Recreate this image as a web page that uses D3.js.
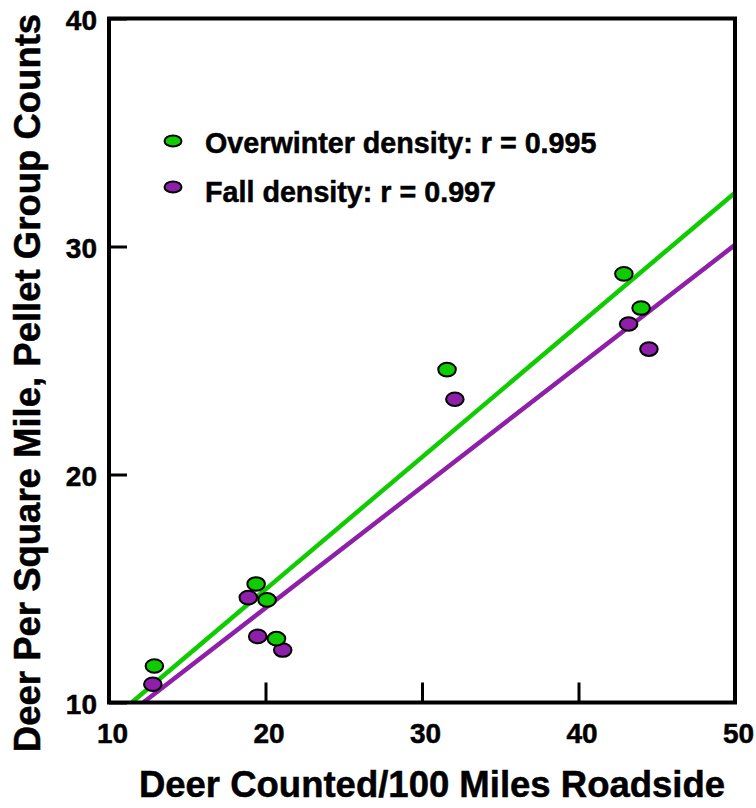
<!DOCTYPE html>
<html>
<head>
<meta charset="utf-8">
<script src="https://cdn.jsdelivr.net/npm/d3@7"></script>
<style>
  html, body { margin: 0; padding: 0; background: #fff; }
  svg { display: block; }
  text { font-family: "Liberation Sans", Arial, Helvetica, sans-serif; font-weight: bold; fill: #000; stroke: #000; stroke-width: 0.5px; }
</style>
</head>
<body>
<svg id="chart" width="756" height="808"></svg>
<script>
// ---- data ----
const xTicks = [10, 20, 30, 40, 50];
const yTicks = [10, 20, 30, 40];
const overwinterX = [12.9, 19.4, 20.1, 20.7, 31.6, 42.9, 44.0];
const overwinterY = [11.6, 15.2, 14.5, 12.8, 24.6, 28.8, 27.3];
const fallX = [12.8, 18.9, 19.5, 21.1, 32.1, 43.2, 44.5];
const fallY = [10.8, 14.6, 12.9, 12.3, 23.3, 26.6, 25.5];
const overwinterFitX = [11.45, 50];
const overwinterFitY = [10, 32.36];
const fallFitX = [12.19, 50];
const fallFitY = [10, 30.07];
const legendLabels = ["Overwinter density: r = 0.995", "Fall density: r = 0.997"];
const xTitle = "Deer Counted/100 Miles Roadside";
const yTitle = "Deer Per Square Mile, Pellet Group Counts";

const green = "#0fcc00";
const purple = "#8e1fa8";

const svg = d3.select("#chart");
const x = d3.scaleLinear().domain([10, 50]).range([109, 735]);
const y = d3.scaleLinear().domain([10, 40]).range([702.5, 18.5]);

svg.append("defs").append("clipPath").attr("id", "plotclip")
  .append("rect")
  .attr("x", x(10)).attr("y", y(40))
  .attr("width", x(50) - x(10)).attr("height", y(10) - y(40));

// fit lines
const line = d3.line().x(d => x(d[0])).y(d => y(d[1]));
const fits = [
  { xs: overwinterFitX, ys: overwinterFitY, color: green },
  { xs: fallFitX, ys: fallFitY, color: purple }
];
svg.append("g").attr("clip-path", "url(#plotclip)")
  .selectAll("path").data(fits).join("path")
  .attr("d", f => line(f.xs.map((v, i) => [v, f.ys[i]])))
  .attr("fill", "none")
  .attr("stroke", f => f.color)
  .attr("stroke-width", 4.5);

// axes
const xAxis = d3.axisBottom(x).tickValues(xTicks).tickSize(-20).tickPadding(21).tickFormat(d3.format("d"));
const gx = svg.append("g").attr("transform", `translate(0,${y(10)})`).call(xAxis);
gx.select(".domain").remove();
gx.selectAll(".tick line").attr("stroke", "#000").attr("stroke-width", 3);
gx.selectAll(".tick text").style("font-size", "28px").attr("font-family", null).attr("dx", 3);

const yAxis = d3.axisLeft(y).tickValues(yTicks).tickSize(-18).tickPadding(12).tickFormat(d3.format("d"));
const gy = svg.append("g").attr("transform", `translate(${x(10)},0)`).call(yAxis);
gy.select(".domain").remove();
gy.selectAll(".tick line").attr("stroke", "#000").attr("stroke-width", 3);
gy.selectAll(".tick text").style("font-size", "28px").attr("font-family", null).attr("dy", "0.4em");

// frame
svg.append("rect")
  .attr("x", x(10)).attr("y", y(40))
  .attr("width", x(50) - x(10)).attr("height", y(10) - y(40))
  .attr("fill", "none").attr("stroke", "#000").attr("stroke-width", 4);

// points
const fallPts = fallX.map((v, i) => [v, fallY[i]]);
const owPts = overwinterX.map((v, i) => [v, overwinterY[i]]);
svg.append("g").selectAll("ellipse").data(fallPts).join("ellipse")
  .attr("cx", d => x(d[0])).attr("cy", d => y(d[1]))
  .attr("rx", 8.8).attr("ry", 6.8)
  .attr("fill", purple).attr("stroke", "#000").attr("stroke-width", 2);
svg.append("g").selectAll("ellipse").data(owPts).join("ellipse")
  .attr("cx", d => x(d[0])).attr("cy", d => y(d[1]))
  .attr("rx", 8.8).attr("ry", 6.8)
  .attr("fill", green).attr("stroke", "#000").attr("stroke-width", 2);

// legend
const legend = [
  { label: legendLabels[0], color: green, my: 141, ty: 153 },
  { label: legendLabels[1], color: purple, my: 187, ty: 202 }
];
const lg = svg.append("g");
lg.selectAll("ellipse").data(legend).join("ellipse")
  .attr("cx", 173).attr("cy", d => d.my).attr("rx", 8.5).attr("ry", 5.5)
  .attr("fill", d => d.color).attr("stroke", "#000").attr("stroke-width", 2);
lg.selectAll("text").data(legend).join("text")
  .attr("x", 205).attr("y", d => d.ty).style("font-size", "28.7px")
  .text(d => d.label);

// axis titles
svg.append("text")
  .attr("x", 432).attr("y", 797).attr("text-anchor", "middle")
  .style("font-size", "36.5px").text(xTitle);
svg.append("text")
  .attr("transform", "translate(40,383) rotate(-90)")
  .attr("text-anchor", "middle").style("font-size", "36.5px").text(yTitle);
</script>
</body>
</html>
